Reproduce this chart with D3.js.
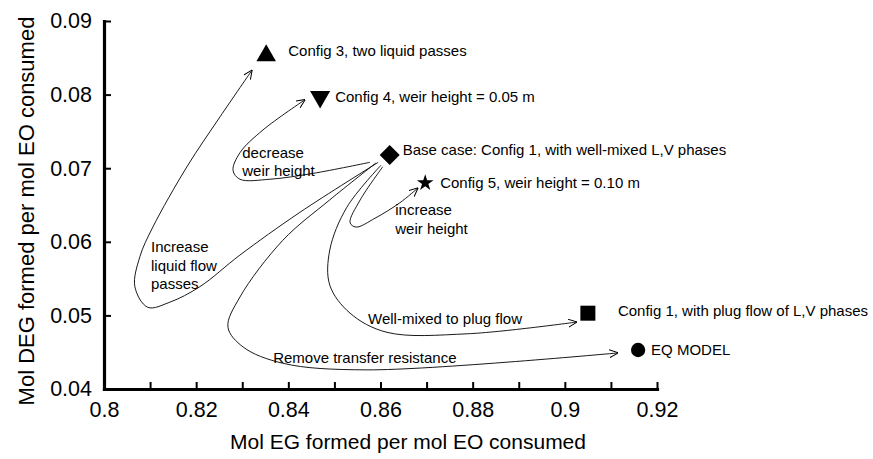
<!DOCTYPE html>
<html>
<head>
<meta charset="utf-8">
<script src="https://cdn.jsdelivr.net/npm/d3@7"></script>
<style>
    body { margin: 0; background: #fff; }
    text { font-family: 'Liberation Sans', Arial, Helvetica, sans-serif; fill: #000; }
</style>
</head>
<body>
<svg id="chart" width="873" height="459"></svg>
<script>
'use strict';

// Cases (point labels)
const caseLabels = [
    'Config 3, two liquid passes',
    'Config 4, weir height = 0.05 m',
    'Base case: Config 1, with well-mixed L,V phases',
    'Config 5, weir height = 0.10 m',
    'Config 1, with plug flow of L,V phases',
    'EQ MODEL'
];

// Mol EG formed per mol EO consumed
const egValues = [0.8352, 0.8469, 0.8620, 0.8697, 0.9050, 0.9159];

// Mol DEG formed per mol EO consumed
const degValues = [0.0853, 0.0797, 0.0718, 0.0680, 0.0503, 0.0453];

// Marker shape per case
const caseShapes = ['triangle', 'triangleDown', 'diamond', 'star', 'square', 'circle'];

// Ticks
const xTicks = [0.80, 0.81, 0.82, 0.83, 0.84, 0.85, 0.86, 0.87, 0.88, 0.89, 0.90, 0.91, 0.92];
const xTickLabels = ['0.8', '', '0.82', '', '0.84', '', '0.86', '', '0.88', '', '0.9', '', '0.92'];
const yTicks = [0.04, 0.05, 0.06, 0.07, 0.08, 0.09];
const yTickLabels = ['0.04', '0.05', '0.06', '0.07', '0.08', '0.09'];

// Annotation arrows, traced as [EG, DEG] points
const arrowLiquidPasses = [[0.8595, 0.0708], [0.8425, 0.0640], [0.8295, 0.0582], [0.8208, 0.0539], [0.8143, 0.0518],
    [0.8095, 0.0511], [0.8067, 0.0539], [0.8078, 0.0580], [0.8106, 0.0620], [0.8180, 0.0702], [0.8252, 0.0770], [0.8321, 0.0833]];
const arrowDecreaseWeir = [[0.8577, 0.0708], [0.8454, 0.0693], [0.8360, 0.0685], [0.8295, 0.0685], [0.8280, 0.0697],
    [0.8295, 0.0721], [0.8345, 0.0752], [0.8436, 0.0793]];
const arrowIncreaseWeir = [[0.8605, 0.0702], [0.8556, 0.0657], [0.8534, 0.0626], [0.8547, 0.0620], [0.8588, 0.0632],
    [0.8642, 0.0653], [0.8681, 0.0673]];
const arrowPlugFlow = [[0.8601, 0.0704], [0.8527, 0.0647], [0.8490, 0.0589], [0.8490, 0.0541], [0.8534, 0.0503],
    [0.8614, 0.0477], [0.8788, 0.0475], [0.9026, 0.0491]];
const arrowTransfer = [[0.8590, 0.0707], [0.8490, 0.0657], [0.8388, 0.0602], [0.8295, 0.0525], [0.8269, 0.0484],
    [0.8302, 0.0457], [0.8388, 0.0435], [0.8571, 0.0426], [0.9115, 0.0449]];

// Annotation texts, anchored at [EG, DEG]
const noteLines = [
    ['decrease', 'weir height'],
    ['Increase', 'liquid flow', 'passes'],
    ['increase', 'weir height'],
    ['Well-mixed to plug flow'],
    ['Remove transfer resistance']
];
const noteEg = [0.8300, 0.8102, 0.8632, 0.8573, 0.8367];
const noteDeg = [0.0721, 0.0593, 0.0643, 0.0496, 0.0442];

// IIFE
(function () {

    const svg = d3.select('#chart');

    // Config
    const margin = {'top': 21, 'right': 216, 'bottom': 70, 'left': 104};
    const width = +svg.attr('width') - (margin.left + margin.right);
    const height = +svg.attr('height') - (margin.top + margin.bottom);

    const container = svg.append('g')
        .attr('transform', `translate(${margin.left}, ${margin.top})`);

    // Scales
    const scX = d3.scaleLinear()
        .domain([0.8, 0.92])
        .range([0, width]);

    const scY = d3.scaleLinear()
        .domain([0.04, 0.09])
        .range([height, 0]);

    // Arrowhead
    svg.append('defs').append('marker')
        .attr('id', 'head')
        .attr('viewBox', '0 -5 10 10')
        .attr('refX', 9.5)
        .attr('refY', 0)
        .attr('markerUnits', 'userSpaceOnUse')
        .attr('markerWidth', 9)
        .attr('markerHeight', 9)
        .attr('orient', 'auto')
        .append('path')
            .attr('d', 'M0,-4.5L10,0L0,4.5')
            .attr('fill', 'none')
            .attr('stroke', '#000')
            .attr('stroke-width', 1.1);

    // Axes
    const xAxis = container.append('g')
        .attr('class', 'x axis')
        .attr('transform', `translate(0, ${height})`)
        .call(d3.axisBottom(scX)
            .tickValues(xTicks)
            .tickFormat((d, i) => xTickLabels[i])
            .tickSizeInner(-7)
            .tickSizeOuter(0)
            .tickPadding(13));

    const yAxis = container.append('g')
        .attr('class', 'y axis')
        .call(d3.axisLeft(scY)
            .tickValues(yTicks)
            .tickFormat((d, i) => yTickLabels[i])
            .tickSizeInner(-7)
            .tickSizeOuter(0)
            .tickPadding(12));

    container.selectAll('.axis .domain')
        .attr('stroke', '#000')
        .attr('stroke-width', 3.2)
        .attr('stroke-linecap', 'square');
    container.selectAll('.axis .tick line')
        .attr('stroke', '#000')
        .attr('stroke-width', 2);
    container.selectAll('.axis text')
        .attr('font-size', 21.5)
        .attr('font-family', "'Liberation Sans', Arial, sans-serif");

    // Axis titles
    svg.append('text')
        .attr('x', 408)
        .attr('y', 449)
        .attr('text-anchor', 'middle')
        .attr('font-size', 21)
        .text('Mol EG formed per mol EO consumed');

    svg.append('text')
        .attr('transform', 'translate(34, 211) rotate(-90)')
        .attr('text-anchor', 'middle')
        .attr('font-size', 22)
        .text('Mol DEG formed per mol EO consumed');

    // Arrows
    const line = d3.line()
        .x((d) => scX(d[0]))
        .y((d) => scY(d[1]))
        .curve(d3.curveCatmullRom.alpha(0.5));

    const arrows = [arrowLiquidPasses, arrowDecreaseWeir, arrowIncreaseWeir, arrowPlugFlow, arrowTransfer];

    container.selectAll('.arrow')
        .data(arrows)
        .enter()
        .append('path')
            .attr('class', 'arrow')
            .attr('d', line)
            .attr('fill', 'none')
            .attr('stroke', '#000')
            .attr('stroke-width', 0.9)
            .attr('marker-end', 'url(#head)');

    // Annotation texts
    const notes = container.selectAll('.note')
        .data(noteLines)
        .enter()
        .append('text')
            .attr('class', 'note')
            .attr('font-size', 15)
            .attr('x', (d, i) => scX(noteEg[i]))
            .attr('y', (d, i) => scY(noteDeg[i]));

    notes.selectAll('tspan')
        .data((d, i) => d.map((t) => ({'t': t, 'i': i})))
        .enter()
        .append('tspan')
            .attr('x', (d) => scX(noteEg[d.i]))
            .attr('dy', (d, j) => j === 0 ? '0.35em' : '18.5')
            .text((d) => d.t);

    // Markers
    const shapeMap = {
        'triangle': {'type': d3.symbolTriangle, 'size': 165, 'rotate': 0},
        'triangleDown': {'type': d3.symbolTriangle, 'size': 175, 'rotate': 180},
        'diamond': {'type': d3.symbolSquare, 'size': 200, 'rotate': 45},
        'star': {'type': d3.symbolStar, 'size': 85, 'rotate': 0},
        'square': {'type': d3.symbolSquare, 'size': 225, 'rotate': 0},
        'circle': {'type': d3.symbolCircle, 'size': 160, 'rotate': 0}
    };

    container.selectAll('.dot')
        .data(egValues)
        .enter()
        .append('path')
            .attr('class', 'dot')
            .attr('d', (d, i) => d3.symbol(shapeMap[caseShapes[i]].type, shapeMap[caseShapes[i]].size)())
            .attr('transform', (d, i) =>
                `translate(${scX(d)}, ${scY(degValues[i])}) rotate(${shapeMap[caseShapes[i]].rotate})`)
            .attr('fill', '#000');

    // Point labels
    const labelOffset = [[22, -5], [15, 0], [13, -5], [15, 0], [30, -2], [13, 0]];

    container.selectAll('.case-label')
        .data(caseLabels)
        .enter()
        .append('text')
            .attr('class', 'case-label')
            .attr('font-size', 15)
            .attr('x', (d, i) => scX(egValues[i]) + labelOffset[i][0])
            .attr('y', (d, i) => scY(degValues[i]) + labelOffset[i][1])
            .attr('dy', '0.35em')
            .text((d) => d);

})();
</script>
</body>
</html>
